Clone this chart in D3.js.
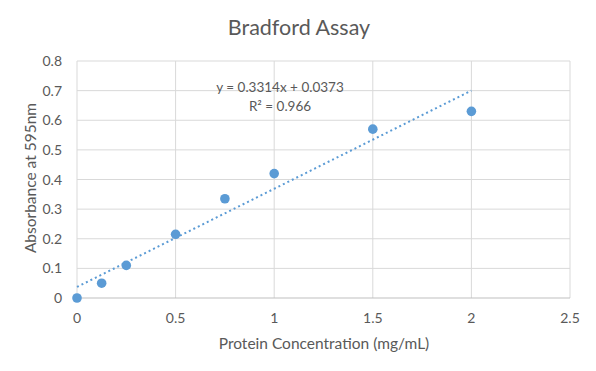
<!DOCTYPE html>
<html>
<head>
<meta charset="utf-8">
<script src="https://cdn.jsdelivr.net/npm/d3@7"></script>
<style>
  body { margin: 0; background: #fff; }
  text { font-family: Lato, "Open Sans", sans-serif; fill: #595959; }
</style>
</head>
<body>
<svg id="chart"></svg>
<script>
// data
var conc = [0, 0.125, 0.25, 0.5, 0.75, 1, 1.5, 2];
var absorb = [0, 0.05, 0.11, 0.215, 0.335, 0.42, 0.57, 0.63];
var xTicks = [0, 0.5, 1, 1.5, 2, 2.5];
var yTicks = [0, 0.1, 0.2, 0.3, 0.4, 0.5, 0.6, 0.7, 0.8];
var trend = [0.3314, 0.0373]; // slope, intercept
var trendRange = [0, 2];
var eqLines = ["y = 0.3314x + 0.0373", "R² = 0.966"];

var W = 596, H = 371;
var svg = d3.select("#chart").attr("width", W).attr("height", H);

var x = d3.scaleLinear().domain([0, 2.5]).range([77, 570]);
var y = d3.scaleLinear().domain([0, 0.8]).range([298, 61]);

// gridlines
svg.append("g").selectAll("line").data(yTicks.slice(1)).enter().append("line")
    .attr("x1", x(0)).attr("x2", x(2.5))
    .attr("y1", d => y(d)).attr("y2", d => y(d))
    .attr("stroke", "#d9d9d9").attr("stroke-width", 1);
svg.append("g").selectAll("line").data(xTicks).enter().append("line")
    .attr("x1", d => x(d)).attr("x2", d => x(d))
    .attr("y1", y(0)).attr("y2", y(0.8))
    .attr("stroke", "#d9d9d9").attr("stroke-width", 1);
// x axis line
svg.append("line").attr("x1", x(0)).attr("x2", x(2.5))
    .attr("y1", y(0)).attr("y2", y(0))
    .attr("stroke", "#bfbfbf").attr("stroke-width", 1);

// tick labels
svg.append("g").selectAll("text").data(xTicks).enter().append("text")
    .attr("x", d => x(d)).attr("y", 323)
    .attr("text-anchor", "middle").style("font-size", "14px")
    .text(d => d);
svg.append("g").selectAll("text").data(yTicks).enter().append("text")
    .attr("x", 62).attr("y", d => y(d) + 5)
    .attr("text-anchor", "end").style("font-size", "14px")
    .text(d => d);

// trendline
var tl = d3.line().x(d => x(d)).y(d => y(trend[0] * d + trend[1]));
svg.append("path").datum(trendRange)
    .attr("d", tl).attr("fill", "none")
    .attr("stroke", "#5b9bd5").attr("stroke-width", 2)
    .attr("stroke-dasharray", "2,3");

// points
svg.append("g").selectAll("circle").data(conc).enter().append("circle")
    .attr("cx", d => x(d)).attr("cy", (d, i) => y(absorb[i]))
    .attr("r", 4.8).attr("fill", "#5b9bd5");

// equation
svg.append("g").selectAll("text").data(eqLines).enter().append("text")
    .attr("x", 280).attr("y", (d, i) => 92 + i * 19)
    .attr("text-anchor", "middle").style("font-size", "13.5px")
    .text(d => d);

// title and axis titles
svg.append("text").attr("x", 299).attr("y", 35)
    .attr("text-anchor", "middle").style("font-size", "21.5px")
    .text("Bradford Assay");
svg.append("text").attr("x", 324).attr("y", 349)
    .attr("text-anchor", "middle").style("font-size", "15.5px")
    .text("Protein Concentration (mg/mL)");
svg.append("text")
    .attr("transform", "translate(36,178) rotate(-90)")
    .attr("text-anchor", "middle").style("font-size", "15.5px")
    .text("Absorbance at 595nm");
</script>
</body>
</html>
